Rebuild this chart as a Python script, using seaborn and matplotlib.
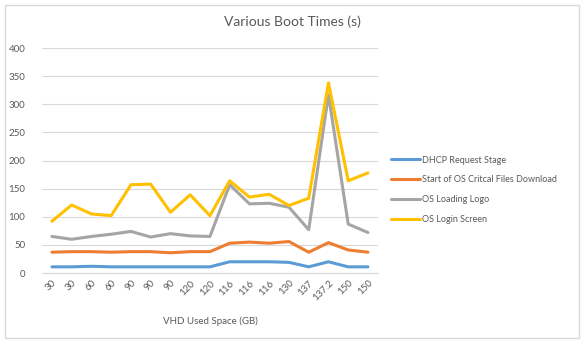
import numpy as np
import pandas as pd
import seaborn as sns
import matplotlib.pyplot as plt
from matplotlib.patches import Rectangle

# x labels (VHD used space, GB) - duplicates are separate runs
space_labels = ["30", "30", "60", "60", "90", "90", "90", "120", "120",
                "116", "116", "116", "130", "137", "137.2", "150", "150"]

dhcp = [11, 11, 12, 11, 11, 11, 11, 11, 11, 20, 20, 20, 19, 11, 20, 11, 11]
critical = [37, 38, 38, 37, 38, 38, 36, 38, 38, 53, 55, 53, 56, 37, 54, 41, 37]
loading_logo = [65, 60, 65, 69, 74, 64, 70, 66, 65, 157, 123, 124, 117, 77, 317, 87, 72]
login_screen = [92, 121, 105, 102, 157, 158, 108, 139, 102, 164, 135, 140, 120, 133, 338, 164, 178]

series_names = ["DHCP Request Stage", "Start of OS Critcal Files Download",
                "OS Loading Logo", "OS Login Screen"]
colors = ["#5B9BD5", "#ED7D31", "#A5A5A5", "#FFC000"]

idx = np.arange(len(space_labels))
df = pd.concat([
    pd.DataFrame({"idx": idx, "value": vals, "series": name})
    for name, vals in zip(series_names, [dhcp, critical, loading_logo, login_screen])
])

sns.set_style("white")
plt.rcParams["font.family"] = ["Lato", "DejaVu Sans"]
text_col = "#595959"

fig = plt.figure(figsize=(5.84, 3.43), dpi=100)
ax = fig.add_axes([0.072, 0.204, 0.575, 0.656])

sns.lineplot(data=df, x="idx", y="value", hue="series", palette=colors,
             linewidth=2.2, ax=ax, sort=False)

ax.set_xlim(-0.5, len(space_labels) - 0.5)
ax.set_ylim(0, 400)
ax.set_yticks(range(0, 401, 50))
ax.yaxis.grid(True, color="#D9D9D9", linewidth=0.8)
ax.set_axisbelow(True)
ax.set_xticks(idx)
ax.set_xticklabels(space_labels, rotation=45, ha="right", rotation_mode="anchor")
ax.tick_params(axis="x", length=0, pad=4, labelsize=7, labelcolor=text_col)
ax.tick_params(axis="y", length=0, pad=12, labelsize=7, labelcolor=text_col)
for s in ["top", "right", "left"]:
    ax.spines[s].set_visible(False)
ax.spines["bottom"].set_color("#D9D9D9")
# tick marks between categories
ax.set_xticks(np.arange(-0.5, len(space_labels), 1), minor=True)
ax.tick_params(axis="x", which="minor", length=3, color="#D9D9D9")

ax.set_xlabel("VHD Used Space (GB)", fontsize=7, color=text_col, labelpad=10)
ax.set_ylabel("")
fig.text(0.5, 0.925, "Various Boot Times (s)", ha="center", fontsize=10, color=text_col)

handles, labels = ax.get_legend_handles_labels()
ax.legend(handles, labels, loc="upper left", bbox_to_anchor=(0.655, 0.57),
          bbox_transform=fig.transFigure, frameon=False, fontsize=6.5,
          labelcolor=text_col, handlelength=3.2, handletextpad=0.3,
          labelspacing=1.2)

fig.patches.append(Rectangle((0.009, 0.015), 0.982, 0.97, transform=fig.transFigure,
                             fill=False, edgecolor="#D9D9D9", linewidth=1))

fig.savefig("out.png", dpi=100)
